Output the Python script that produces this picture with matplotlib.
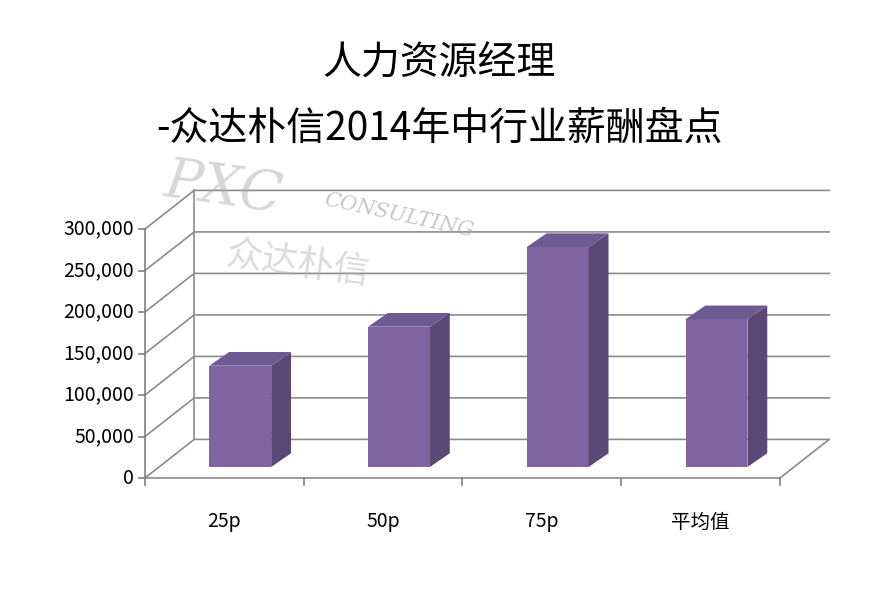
import matplotlib.pyplot as plt
from matplotlib.patches import Polygon

plt.rcParams['font.family'] = ['Noto Sans CJK SC', 'DejaVu Sans']

categories = ['25p', '50p', '75p', '平均值']
values = [122000, 169000, 265000, 178000]
yticks = [0, 50000, 100000, 150000, 200000, 250000, 300000]

front_c = '#8064A2'
side_c = '#5C4877'
top_c = '#6E5A93'
grid_c = '#8C8C8C'

fig = plt.figure(figsize=(8.96, 5.91), dpi=100)
ax = fig.add_axes([0.1618, 0.1912, 0.7087, 0.4213])
ax.set_xlim(0, 4)
ax.set_ylim(0, 300000)
ax.axis('off')

# depth of the floor / wall in data units
ddx, ddy = 0.31, 46500

# gridlines on side and back walls
for v in yticks:
    ax.plot([0, ddx, 4 + ddx], [v, v + ddy, v + ddy], color=grid_c, lw=1.2, clip_on=False)
ax.plot([ddx, ddx], [ddy, 300000 + ddy], color=grid_c, lw=1.2, clip_on=False)
# floor outline
ax.plot([0, 4, 4 + ddx], [0, 0, ddy], color=grid_c, lw=1.2, clip_on=False)
# left axis with ticks
ax.plot([0, 0], [0, 300000], color='#808080', lw=1.2, clip_on=False)
for v in yticks:
    ax.plot([-0.04, 0], [v, v], color='#808080', lw=1.2, clip_on=False)
    ax.text(-0.07, v, f'{v:,}', ha='right', va='center', fontsize=14)
for i in range(5):
    ax.plot([i, i], [0, -9000], color='#808080', lw=1.2, clip_on=False)
for i, c in enumerate(categories):
    ax.text(i + 0.5, -53000, c, ha='center', va='center', fontsize=14)

# 3D bars
w = 0.39
fy = 13300             # front face depth offset
bx, by = 0.125, 16500  # bar depth
for i, v in enumerate(values):
    x0 = i + 0.405
    y0 = fy
    y1 = fy + v
    ax.add_patch(Polygon([(x0, y0), (x0 + w, y0), (x0 + w, y1), (x0, y1)],
                         closed=True, fc=front_c, ec='none', clip_on=False, zorder=3))
    ax.add_patch(Polygon([(x0 + w, y0), (x0 + w + bx, y0 + by), (x0 + w + bx, y1 + by), (x0 + w, y1)],
                         closed=True, fc=side_c, ec='none', clip_on=False, zorder=3))
    ax.add_patch(Polygon([(x0, y1), (x0 + w, y1), (x0 + w + bx, y1 + by), (x0 + bx, y1 + by)],
                         closed=True, fc=top_c, ec='none', clip_on=False, zorder=3))

# watermark
fig.text(0.18, 0.64, 'PXC', fontsize=40, style='italic', family='DejaVu Serif',
         color='#B0B0B0', alpha=0.5, rotation=-8)
fig.text(0.36, 0.60, 'CONSULTING', fontsize=15, style='italic', family='DejaVu Serif',
         color='#A0A0A0', alpha=0.6, rotation=-12)
fig.text(0.25, 0.52, '众达朴信', fontsize=26, color='#B8B8B8', alpha=0.5, rotation=-8)

fig.text(0.49, 0.893, '人力资源经理', ha='center', va='center', fontsize=28, fontweight='medium')
fig.text(0.49, 0.782, '-众达朴信2014年中行业薪酬盘点', ha='center', va='center', fontsize=28,
         fontweight='medium')

fig.savefig('out.png', dpi=100)
